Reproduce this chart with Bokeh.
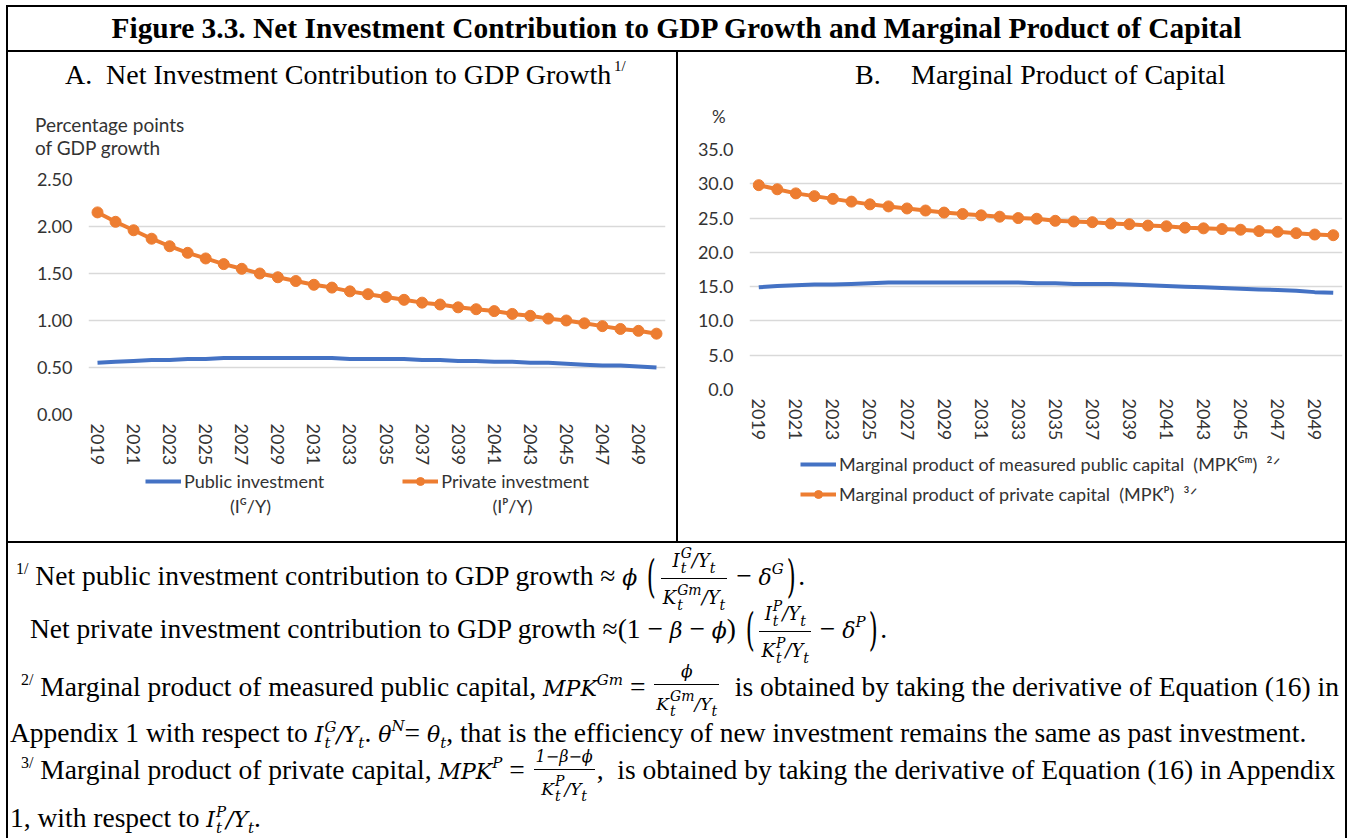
from bokeh.plotting import figure
from bokeh.models import (Range1d, FixedTicker, NumeralTickFormatter, Legend,
                          LegendItem, Div, ColumnDataSource, Label)
from bokeh.layouts import row, column
from bokeh.embed import file_html
from bokeh.resources import INLINE

# ---------------- data ----------------
years = list(range(2019, 2051))
public_investment = [0.55, 0.56, 0.57, 0.58, 0.58, 0.59, 0.59, 0.60, 0.60, 0.60, 0.60, 0.60,
                     0.60, 0.60, 0.59, 0.59, 0.59, 0.59, 0.58, 0.58, 0.57, 0.57, 0.56, 0.56,
                     0.55, 0.55, 0.54, 0.53, 0.52, 0.52, 0.51, 0.50]
private_investment = [2.15, 2.05, 1.96, 1.87, 1.79, 1.72, 1.66, 1.60, 1.55, 1.50, 1.46, 1.42,
                      1.38, 1.35, 1.31, 1.28, 1.25, 1.22, 1.19, 1.17, 1.14, 1.12, 1.10, 1.07,
                      1.05, 1.02, 1.00, 0.97, 0.94, 0.91, 0.89, 0.86]
mpk_public = [14.9, 15.1, 15.2, 15.3, 15.3, 15.4, 15.5, 15.6, 15.6, 15.6, 15.6, 15.6,
              15.6, 15.6, 15.6, 15.5, 15.5, 15.4, 15.4, 15.4, 15.3, 15.2, 15.1, 15.0,
              14.9, 14.8, 14.7, 14.6, 14.5, 14.4, 14.2, 14.1]
mpk_private = [29.8, 29.2, 28.6, 28.2, 27.8, 27.4, 27.0, 26.7, 26.4, 26.1, 25.8, 25.6,
               25.4, 25.2, 25.0, 24.9, 24.6, 24.5, 24.4, 24.2, 24.1, 23.9, 23.8, 23.6,
               23.5, 23.4, 23.3, 23.1, 23.0, 22.8, 22.6, 22.5]
year_ticks = list(range(2019, 2050, 2))
a_ticks = [0.0, 0.5, 1.0, 1.5, 2.0, 2.5]
b_ticks = [0, 5, 10, 15, 20, 25, 30, 35]
a_legend_labels = ["Public investment", "Private investment"]
a_legend_sub = ["(I\u1d33/Y)", "(I\u1d3e/Y)"]
b_legend_labels = ["Marginal product of measured public capital  (MPK\u1d33\u1d50)  \u00b2\u141f",
                   "Marginal product of private capital  (MPK\u1d3e)  \u00b3\u141f"]

BLUE = "#4472C4"
ORANGE = "#ED7D31"
GRID = "#D9D9D9"
TXT = "#333333"
SANS = "Lato"
SERIF = "Liberation Serif"

W = 1341
TITLE_H = 47
ROW_H = 489
FOOT_H = 297
ROW_TOP = 52          # page y where the chart row starts (layout has a 5px top margin)
PA_W = 668
PB_W = 667
T_BORDER = 15
B_BORDER = 56
HEAD_A, HEAD_B = 112, 82
FIG_A_H = T_BORDER + 235 + B_BORDER
FIG_B_H = T_BORDER + 240 + B_BORDER
LEG_A_H = ROW_H - HEAD_A - FIG_A_H
LEG_B_H = ROW_H - HEAD_B - FIG_B_H
LEG_A_TOP = ROW_TOP + HEAD_A + FIG_A_H
LEG_B_TOP = ROW_TOP + HEAD_B + FIG_B_H
A_LEFT, A_RIGHT = 80, 11
B_LEFT, B_RIGHT = 71, 3


def style_axes(p, ticks, fmt):
    p.outline_line_color = None
    p.background_fill_color = "white"
    p.border_fill_color = "white"
    p.xgrid.visible = False
    p.ygrid.grid_line_color = GRID
    p.ygrid.grid_line_width = 1.5
    p.yaxis.ticker = FixedTicker(ticks=ticks)
    p.yaxis.formatter = NumeralTickFormatter(format=fmt)
    p.xaxis.ticker = FixedTicker(ticks=year_ticks)
    p.xaxis.major_label_orientation = "vertical"
    for ax in (p.xaxis, p.yaxis):
        ax.axis_line_color = None
        ax.major_tick_line_color = None
        ax.minor_tick_line_color = None
        ax.major_tick_out = 0
        ax.major_tick_in = 0
        ax.minor_tick_out = 0
        ax.minor_tick_in = 0
        ax.major_label_text_font = SANS
        ax.major_label_text_font_size = "18px"
        ax.major_label_text_color = TXT
    p.yaxis.major_label_standoff = 16
    p.xaxis.major_label_standoff = 9


def legend_fig(w, h, left, right):
    # x data units equal canvas pixels (frame is aligned with the chart above it)
    f = figure(width=w, height=h, x_range=Range1d(left, w - right), y_range=Range1d(h, 0),
               x_axis_type=None, y_axis_type=None, output_backend="svg", toolbar_location=None,
               min_border_left=left, min_border_right=right, min_border_top=0, min_border_bottom=0)
    f.outline_line_color = None
    f.background_fill_color = "white"
    f.border_fill_color = "white"
    return f


# ---------------- Panel A ----------------
pa = figure(width=PA_W, height=FIG_A_H, x_range=Range1d(2018.5, 2050.5),
            y_range=Range1d(0, 2.5), output_backend="svg", toolbar_location=None,
            min_border_left=A_LEFT, min_border_right=A_RIGHT, min_border_top=T_BORDER,
            min_border_bottom=B_BORDER)
style_axes(pa, a_ticks, "0.00")
src_a = ColumnDataSource(dict(year=years, pub=public_investment, priv=private_investment))
pa.line("year", "pub", source=src_a, line_color=BLUE, line_width=4)
pa.line("year", "priv", source=src_a, line_color=ORANGE, line_width=4)
pa.scatter("year", "priv", source=src_a, size=11, fill_color=ORANGE, line_color=ORANGE)

# legend strip for panel A (its key renderers use the same series; they sit outside this strip's view)
la = legend_fig(PA_W, LEG_A_H, A_LEFT, A_RIGHT)
k_pub = la.line("year", "pub", source=src_a, line_color=BLUE, line_width=4)
k_priv = la.line("year", "priv", source=src_a, line_color=ORANGE, line_width=4)
k_privm = la.scatter("year", "priv", source=src_a, size=11, fill_color=ORANGE, line_color=ORANGE)
leg_a = Legend(items=[LegendItem(label=a_legend_labels[0], renderers=[k_pub]),
                      LegendItem(label=a_legend_labels[1], renderers=[k_priv, k_privm])],
               orientation="horizontal",
               location=(145 - 8 - A_LEFT, LEG_A_H - (482 - LEG_A_TOP + 10)),
               padding=0, margin=0, spacing=78,
               glyph_width=36, glyph_height=20, label_height=20, label_standoff=3,
               border_line_color=None, background_fill_alpha=0,
               label_text_font=SANS, label_text_font_size="18px", label_text_color=TXT)
la.add_layout(leg_a)
la.add_layout(Label(x=250 - 8, y=505 - LEG_A_TOP, text=a_legend_sub[0], text_align="center",
                    text_baseline="middle", text_font=SANS, text_font_size="18px", text_color=TXT))
la.add_layout(Label(x=512 - 8, y=505 - LEG_A_TOP, text=a_legend_sub[1], text_align="center",
                    text_baseline="middle", text_font=SANS, text_font_size="18px", text_color=TXT))

# ---------------- Panel B ----------------
pb = figure(width=PB_W, height=FIG_B_H, x_range=Range1d(2018.5, 2050.5),
            y_range=Range1d(0, 35), output_backend="svg", toolbar_location=None,
            min_border_left=B_LEFT, min_border_right=B_RIGHT, min_border_top=T_BORDER,
            min_border_bottom=B_BORDER)
style_axes(pb, b_ticks, "0.0")
src_b = ColumnDataSource(dict(year=years, pub=mpk_public, priv=mpk_private))
pb.line("year", "pub", source=src_b, line_color=BLUE, line_width=4)
pb.line("year", "priv", source=src_b, line_color=ORANGE, line_width=4)
pb.scatter("year", "priv", source=src_b, size=11, fill_color=ORANGE, line_color=ORANGE)

lb = legend_fig(PB_W, LEG_B_H, B_LEFT, B_RIGHT)
kb_pub = lb.line("year", "pub", source=src_b, line_color=BLUE, line_width=4)
kb_priv = lb.line("year", "priv", source=src_b, line_color=ORANGE, line_width=4)
kb_privm = lb.scatter("year", "priv", source=src_b, size=11, fill_color=ORANGE, line_color=ORANGE)
leg_b = Legend(items=[LegendItem(label=b_legend_labels[0], renderers=[kb_pub]),
                      LegendItem(label=b_legend_labels[1], renderers=[kb_priv, kb_privm])],
               orientation="vertical",
               location=(800 - 678 - B_LEFT, LEG_B_H - (467 - LEG_B_TOP - 10 + 48)),
               padding=0, margin=0, spacing=8,
               glyph_width=36, glyph_height=20, label_height=20, label_standoff=3,
               border_line_color=None, background_fill_alpha=0,
               label_text_font=SANS, label_text_font_size="18px", label_text_color=TXT)
lb.add_layout(leg_b)


# ---------------- HTML pieces (title, panel headers, separators, footnotes) ----------------
def absdiv(x, y, html, extra=""):
    return (f'<div style="position:absolute;left:{x}px;top:{y}px;white-space:nowrap;{extra}">{html}</div>')


def mkdiv(w, h, inner, style=""):
    return Div(text=(f'<div style="position:relative;box-sizing:border-box;width:{w}px;height:{h}px;'
                     f'overflow:visible;{style}">{inner}</div>'),
               width=w, height=h, margin=(0, 0, 0, 0))


title_div = mkdiv(W, TITLE_H,
                  'Figure 3.3. Net Investment Contribution to GDP Growth and Marginal Product of Capital',
                  f"border:2px solid #000;font-family:'{SERIF}';font-weight:bold;font-size:29.4px;"
                  "line-height:43px;text-align:center;color:#000;white-space:nowrap")

serif_title = f"font-family:'{SERIF}';font-size:28px;line-height:28px;color:#000"
sans_lbl = f"font-family:'{SANS}';font-size:19px;line-height:19px;color:{TXT}"

head_a = mkdiv(PA_W, HEAD_A,
               absdiv(57, 9, "A.", serif_title)
               + absdiv(98, 9, "Net Investment Contribution to GDP Growth", serif_title)
               + absdiv(606, 7, "1/", f"font-family:'{SERIF}';font-size:15px;line-height:15px")
               + absdiv(27, 63, "Percentage points", sans_lbl)
               + absdiv(27, 86, "of GDP growth", sans_lbl))

head_b = mkdiv(PB_W, HEAD_B,
               absdiv(177, 9, "B.", serif_title)
               + absdiv(233, 9, "Marginal Product of Capital", serif_title)
               + absdiv(34, 56, "%", f"font-family:'{SANS}';font-size:17px;line-height:17px;color:{TXT}"))


def vline():
    return Div(text=f'<div style="width:2px;height:{ROW_H}px;background:#000"></div>',
               width=2, height=ROW_H, margin=(0, 0, 0, 0))


MF = "DejaVu Serif"


def mi(s, size=22):
    return f'<span style="font-family:\'{MF}\';font-style:italic;font-size:{size}px">{s}</span>'


def ss(sup, sub, size=15):
    return (f'<span style="display:inline-block;vertical-align:-6px;line-height:{size + 1}px;font-size:{size}px;'
            f'font-family:\'{MF}\';font-style:italic;margin-left:1px;text-align:left">'
            f'<span style="display:block">{sup}</span><span style="display:block">{sub}</span></span>')


def msup(s):
    return (f'<span style="font-family:\'{MF}\';font-style:italic;font-size:15px;'
            f'vertical-align:11px;line-height:0">{s}</span>')


def msub(s, size=15):
    return (f'<span style="font-family:\'{MF}\';font-style:italic;font-size:{size}px;'
            f'vertical-align:-6px;line-height:0">{s}</span>')


def fsup(s):
    return f'<span style="font-size:16px;vertical-align:11px;line-height:0">{s}</span>'


def frac(num, den, lift=0):
    return ('<span style="display:inline-block;vertical-align:middle;text-align:center;line-height:1.0;'
            f'margin:0 2px;position:relative;top:{-lift}px">'
            f'<span style="display:block;padding:0 2px 2px">{num}</span>'
            f'<span style="display:block;border-top:1px solid #000;padding:2px 2px 0">{den}</span></span>')


def paren(c):
    return (f'<span style="display:inline-block;transform:scale(1.05,2.0);font-family:\'{MF}\';'
            f'font-size:22px;margin:0 3px">{c}</span>')


def ratio(letter, sup, size=18):
    return mi(letter, size) + ss(sup, "t", 14) + mi("/Y", size) + msub("t", 14)


def fline(x, baseline, html):
    return (f'<div style="position:absolute;left:{x}px;top:{baseline - 44}px;line-height:70px;'
            f'white-space:nowrap">{html}</div>')


L1 = (fsup("1/") + " Net public investment contribution to GDP growth ≈ " + mi("ϕ") + " " + paren("(")
      + frac(ratio("I", "G"), ratio("K", "Gm")) + " − " + mi("δ") + msup("G") + paren(")") + ".")
L2 = ("Net private investment contribution to GDP growth ≈(1 − " + mi("β") + " − " + mi("ϕ") + ") "
      + paren("(") + frac(ratio("I", "P"), ratio("K", "P")) + " − " + mi("δ") + msup("P") + paren(")") + ".")
L3 = (fsup("2/") + " Marginal product of measured public capital, " + mi("MPK") + msup("Gm") + " = "
      + frac(mi("ϕ", 17), ratio("K", "Gm", 17), lift=3)
      + " &nbsp;is obtained by taking the derivative of Equation (16) in")
L4 = ("Appendix 1 with respect to " + mi("I") + ss("G", "t") + mi("/Y") + msub("t") + ". " + mi("θ") + msup("N")
      + "= " + mi("θ") + msub("t") + ", that is the efficiency of new investment remains the same as past investment.")
L5 = (fsup("3/") + " Marginal product of private capital, " + mi("MPK") + msup("P") + " = "
      + frac(mi("1−β−ϕ", 16), ratio("K", "P", 17), lift=1)
      + ", &nbsp;is obtained by taking the derivative of Equation (16) in Appendix")
L6 = "1, with respect to " + mi("I") + ss("P", "t") + mi("/Y") + msub("t") + "."

foot_div = mkdiv(W, FOOT_H,
                 fline(8, 42, L1) + fline(22, 95, L2) + fline(13, 153, L3)
                 + fline(2, 199, L4) + fline(13, 236, L5) + fline(2, 284, L6),
                 "border-top:2px solid #000;border-left:2px solid #000;border-right:2px solid #000;"
                 f"font-family:'{SERIF}';font-size:27.5px;color:#000")

panel_a = column(head_a, pa, la, spacing=0)
panel_b = column(head_b, pb, lb, spacing=0)
layout = column(title_div, row(vline(), panel_a, vline(), panel_b, vline(), spacing=0), foot_div,
                spacing=0, margin=(5, 0, 0, 6))

with open("out.html", "w") as f:
    f.write(file_html(layout, INLINE, title="Figure 3.3"))
